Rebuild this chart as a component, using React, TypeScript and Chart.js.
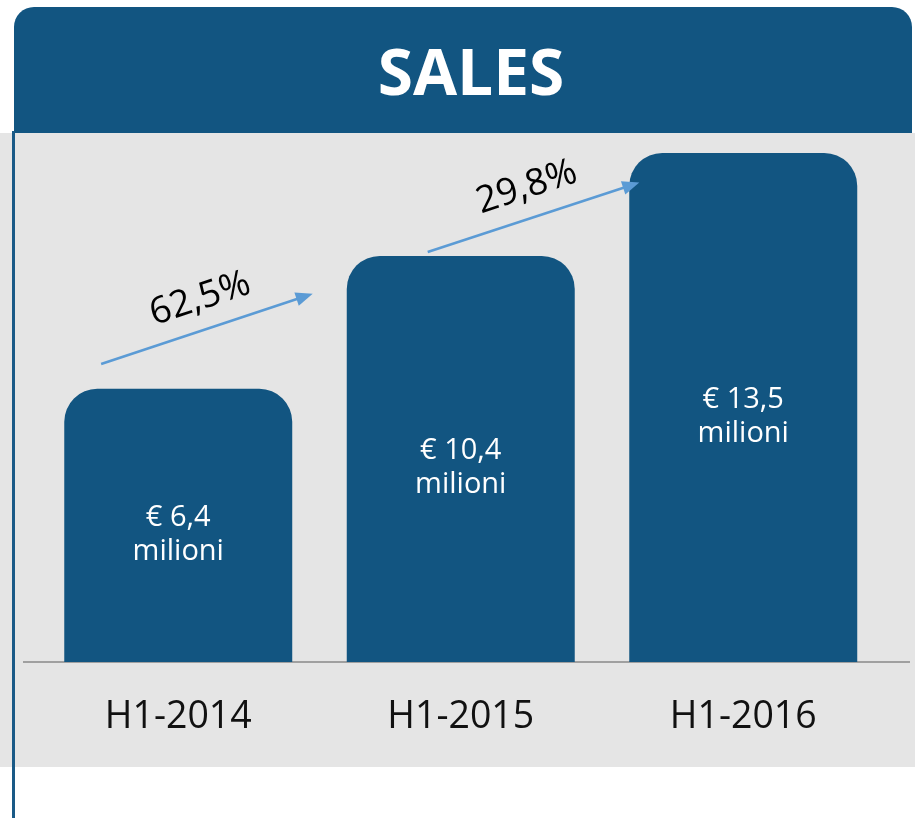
import React, { useEffect, useRef } from 'react';
import { Chart, registerables } from 'chart.js';

Chart.register(...registerables);

// ---- data ----
const TITLE = 'SALES';
const CATEGORIES = ['H1-2014', 'H1-2015', 'H1-2016'];
const SALES = [6.4, 10.4, 13.5];
const BAR_LINE1 = ['€ 6,4', '€ 10,4', '€ 13,5'];
const BAR_LINE2 = ['milioni', 'milioni', 'milioni'];
const GROWTH = ['62,5%', '29,8%'];

// ---- scale / style ----
const Y_MIN = -1.82;
const Y_MAX = 14.1;
const BAR_COLOR = '#125581';
const HEADER_COLOR = '#125581';
const PANEL_COLOR = '#e5e5e5';
const ARROW_COLOR = '#5b9bd5';
const FONT = '"Open Sans", "Noto Sans", sans-serif';

// arrow geometry in (category index, value) coordinates
const ARROW_GEOM = [
  { x0: -0.273, y0: 7.15, x1: 0.476, y1: 9.26 },
  { x0: 0.883, y0: 10.52, x1: 1.632, y1: 12.61 },
];

export default function App() {
  const ref = useRef<HTMLCanvasElement | null>(null);

  useEffect(() => {
    if (!ref.current) return;

    const decor = {
      id: 'decor',
      beforeDraw(chart: any) {
        const ctx = chart.ctx as CanvasRenderingContext2D;
        const W = chart.width;
        const area = chart.chartArea;
        ctx.save();
        // gray panel
        ctx.fillStyle = PANEL_COLOR;
        ctx.fillRect(0, area.top, W, 767 - area.top);
        // header
        const hx = 14, hy = 7, hw = 898, hh = area.top - 7, r = 20;
        ctx.fillStyle = HEADER_COLOR;
        ctx.beginPath();
        ctx.moveTo(hx, hy + hh);
        ctx.lineTo(hx, hy + r);
        ctx.arcTo(hx, hy, hx + r, hy, r);
        ctx.lineTo(hx + hw - r, hy);
        ctx.arcTo(hx + hw, hy, hx + hw, hy + r, r);
        ctx.lineTo(hx + hw, hy + hh);
        ctx.closePath();
        ctx.fill();
        // title
        ctx.fillStyle = '#ffffff';
        ctx.font = `bold 64px ${FONT}`;
        ctx.textAlign = 'center';
        ctx.textBaseline = 'alphabetic';
        ctx.fillText(TITLE, 471, 95);
        // left vertical line
        ctx.strokeStyle = '#1a5a87';
        ctx.lineWidth = 3;
        ctx.beginPath();
        ctx.moveTo(13.5, area.top - 2);
        ctx.lineTo(13.5, chart.height);
        ctx.stroke();
        ctx.restore();
      },
      beforeDatasetsDraw(chart: any) {
        const ctx = chart.ctx as CanvasRenderingContext2D;
        const area = chart.chartArea;
        ctx.save();
        ctx.strokeStyle = '#a0a0a0';
        ctx.lineWidth = 2;
        ctx.beginPath();
        ctx.moveTo(23, area.bottom);
        ctx.lineTo(910, area.bottom);
        ctx.stroke();
        ctx.restore();
      },
      afterDatasetsDraw(chart: any) {
        const ctx = chart.ctx as CanvasRenderingContext2D;
        const area = chart.chartArea;
        const xs = chart.scales.x;
        const ys = chart.scales.y;
        const meta = chart.getDatasetMeta(0);
        ctx.save();
        // bar labels
        ctx.fillStyle = '#ffffff';
        ctx.font = `29px ${FONT}`;
        ctx.textAlign = 'center';
        ctx.textBaseline = 'alphabetic';
        meta.data.forEach((bar: any, i: number) => {
          const mid = (bar.y + bar.base) / 2;
          ctx.fillText(BAR_LINE1[i], bar.x, mid + 0.5);
          ctx.fillText(BAR_LINE2[i], bar.x, mid + 34.5);
        });
        // category labels
        ctx.fillStyle = '#111111';
        ctx.font = `37.5px ${FONT}`;
        CATEGORIES.forEach((c, i) => {
          ctx.fillText(c, xs.getPixelForValue(i), area.bottom + 66);
        });
        // arrows
        ARROW_GEOM.forEach((g, i) => {
          const ax = xs.getPixelForValue(g.x0);
          const ay = ys.getPixelForValue(g.y0);
          const bx = xs.getPixelForValue(g.x1);
          const by = ys.getPixelForValue(g.y1);
          const ang = Math.atan2(by - ay, bx - ax);
          const headLen = 17;
          const headHalf = 7;
          const lx = bx - headLen * Math.cos(ang);
          const ly = by - headLen * Math.sin(ang);
          ctx.strokeStyle = ARROW_COLOR;
          ctx.fillStyle = ARROW_COLOR;
          ctx.lineWidth = 2.5;
          ctx.beginPath();
          ctx.moveTo(ax, ay);
          ctx.lineTo(lx + 2 * Math.cos(ang), ly + 2 * Math.sin(ang));
          ctx.stroke();
          ctx.beginPath();
          ctx.moveTo(bx, by);
          ctx.lineTo(lx - headHalf * Math.sin(ang), ly + headHalf * Math.cos(ang));
          ctx.lineTo(lx + headHalf * Math.sin(ang), ly - headHalf * Math.cos(ang));
          ctx.closePath();
          ctx.fill();
          // percentage label
          const mx = (ax + bx) / 2 + 3 * Math.cos(ang);
          const my = (ay + by) / 2 + 3 * Math.sin(ang);
          const off = 20;
          const tx = mx + off * Math.sin(ang);
          const ty = my - off * Math.cos(ang);
          ctx.save();
          ctx.translate(tx, ty);
          ctx.rotate(ang);
          ctx.fillStyle = '#000000';
          ctx.font = `37px ${FONT}`;
          ctx.textAlign = 'center';
          ctx.textBaseline = 'alphabetic';
          ctx.fillText(GROWTH[i], 0, 0);
          ctx.restore();
        });
        ctx.restore();
      },
    };

    const chart = new Chart(ref.current, {
      type: 'bar',
      data: {
        labels: CATEGORIES,
        datasets: [
          {
            data: SALES,
            base: Y_MIN,
            backgroundColor: BAR_COLOR,
            borderWidth: 0,
            borderSkipped: false,
            borderRadius: { topLeft: 33, topRight: 33, bottomLeft: 0, bottomRight: 0 },
            barPercentage: 0.807,
            categoryPercentage: 1,
          } as any,
        ],
      },
      options: {
        animation: false,
        responsive: false,
        devicePixelRatio: 1,
        layout: { padding: { left: 37, right: 30.5, top: 133, bottom: 156 } },
        plugins: {
          legend: { display: false },
          title: { display: false },
          tooltip: { enabled: false },
        },
        events: [],
        scales: {
          x: { display: false, offset: true, grid: { display: false } },
          y: { display: false, min: Y_MIN, max: Y_MAX, grid: { display: false } },
        },
      },
      plugins: [decor],
    });

    return () => chart.destroy();
  }, []);

  return (
    <div style={{ position: 'absolute', left: 0, top: 0, width: 915, height: 818 }}>
      <canvas ref={ref} width={915} height={818} style={{ display: 'block' }} />
    </div>
  );
}
